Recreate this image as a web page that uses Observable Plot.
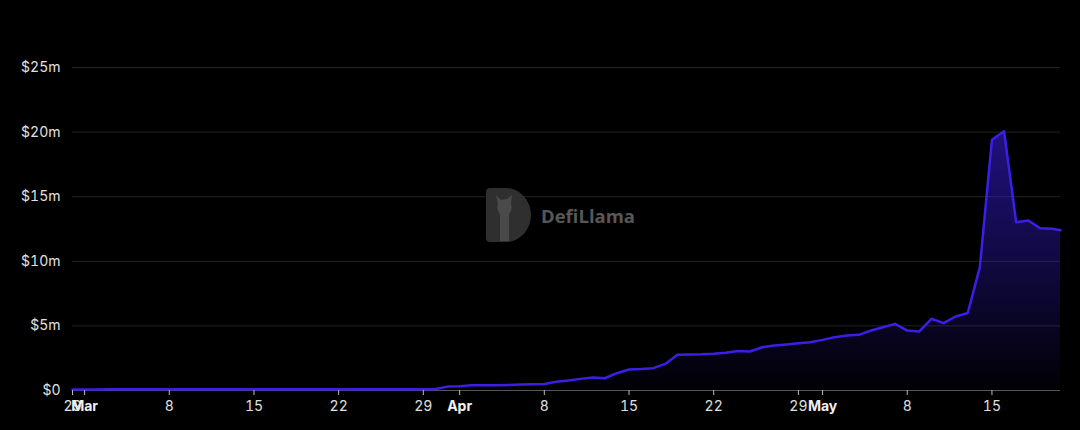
<!DOCTYPE html>
<html>
<head>
<meta charset="utf-8">
<script src="https://cdn.jsdelivr.net/npm/d3@7"></script>
<script src="https://cdn.jsdelivr.net/npm/@observablehq/plot@0.6"></script>
<style>
  html, body { margin: 0; padding: 0; background: #000; }
  #chart { width: 1080px; height: 430px; }
</style>
</head>
<body>
<div id="chart"></div>
<script>
// ---- data ----
const startDate = "2024-02-29";
const endDate = "2024-05-21";            // exclusive end of daily points
const lastUpdate = "2024-05-20T16:00Z";  // partial last point
const values = [
  // Feb 29 – Mar 30
  0.08,0.08,0.08,0.09,0.09,0.09,0.09,0.09,0.09,0.1,0.1,0.1,0.1,0.1,0.1,0.1,
  0.1,0.1,0.1,0.1,0.1,0.1,0.1,0.1,0.1,0.1,0.1,0.1,0.1,0.1,0.12,
  // Mar 31
  0.3,
  // Apr 1 – Apr 30
  0.33,0.4,0.4,0.41,0.43,0.46,0.49,0.5,0.68,0.77,0.9,1.0,0.95,1.34,1.63,1.66,
  1.73,2.06,2.76,2.79,2.8,2.84,2.92,3.05,3.02,3.35,3.48,3.56,3.66,3.74,
  // May 1 – May 20
  3.92,4.13,4.25,4.31,4.64,4.9,5.16,4.64,4.57,5.55,5.21,5.73,6.0,9.55,19.4,
  20.07,13.03,13.16,12.55,12.52,
  // last update
  12.4
];
const yTicks = [0, 5, 10, 15, 20, 25];
const dayTicks = ["2024-02-29","2024-03-08","2024-03-15","2024-03-22","2024-03-29",
                  "2024-04-08","2024-04-15","2024-04-22","2024-04-29",
                  "2024-05-08","2024-05-15"];
const monthTicks = ["2024-03-01","2024-04-01","2024-05-01"];
const monthNames = ["Jan","Feb","Mar","Apr","May","Jun","Jul","Aug","Sep","Oct","Nov","Dec"];

// ---- build table ----
const dates = d3.utcDay.range(new Date(startDate), new Date(endDate));
dates.push(new Date(lastUpdate));
const data = dates.map((d, i) => ({date: d, value: values[i] * 1e6}));

const lineColor = "#3b1fe6";
const font = "Inter, 'Liberation Sans', sans-serif";

const plot = Plot.plot({
  width: 1080,
  height: 430,
  marginLeft: 72,
  marginRight: 20,
  marginTop: 67,
  marginBottom: 40,
  style: {background: "#000", color: "#ddd", fontFamily: font, fontSize: "14px"},
  x: {type: "utc", domain: [dates[0], dates[dates.length - 1]]},
  y: {domain: [0, 25e6]},
  marks: [
    Plot.gridY(yTicks.map(v => v * 1e6), {stroke: "#222", strokeOpacity: 1, strokeWidth: 1}),
    Plot.areaY(data, {x: "date", y: "value", fill: "url(#areaGrad)"}),
    Plot.ruleY([0], {stroke: "#555", strokeWidth: 1.2}),
    Plot.lineY(data, {x: "date", y: "value", stroke: lineColor, strokeWidth: 2.5, strokeLinejoin: "round"}),
    Plot.axisY(yTicks.map(v => v * 1e6), {
      tickSize: 0, tickPadding: 12, fill: "#e0e0e0", fontSize: 14, label: null,
      tickFormat: v => "$" + (v / 1e6) + (v === 0 ? "" : "m")
    }),
    Plot.axisX(dayTicks.map(d => new Date(d)), {
      tickSize: 5, tickPadding: 6, stroke: "#bbb", fill: "#e0e0e0", fontSize: 14, label: null,
      tickFormat: d => String(d.getUTCDate())
    }),
    Plot.axisX(monthTicks.map(d => new Date(d)), {
      tickSize: 5, tickPadding: 6, stroke: "#bbb", fill: "#f0f0f0", fontSize: 14, fontWeight: "bold", label: null,
      tickFormat: d => monthNames[d.getUTCMonth()]
    })
  ]
});

// gradient for the area
const svg = d3.select(plot);
const defs = svg.insert("defs", ":first-child");
const grad = defs.append("linearGradient")
  .attr("id", "areaGrad").attr("x1", 0).attr("y1", 0).attr("x2", 0).attr("y2", 1);
grad.append("stop").attr("offset", "0%").attr("stop-color", lineColor).attr("stop-opacity", 0.55);
grad.append("stop").attr("offset", "100%").attr("stop-color", lineColor).attr("stop-opacity", 0.02);

// watermark
const wm = svg.append("g").attr("class", "watermark");
wm.append("path")
  .attr("d", "M490,188 H506 A25,27 0 0 1 506,242 H490 Q486,242 486,238 V192 Q486,188 490,188 Z")
  .attr("fill", "#2f2f2f");
wm.append("path")
  .attr("d", "M500,241 V214 Q496,210 498,204 L496,195 L501,200 L507,199 L512,195 L511,204 Q513,210 509,214 V241 Z")
  .attr("fill", "#4a4a4a");
wm.append("text")
  .attr("x", 541).attr("y", 223)
  .attr("text-anchor", "start")
  .attr("fill", "#575757")
  .attr("font-family", "'Open Sans', Inter, sans-serif")
  .attr("font-weight", "bold")
  .attr("font-size", 18.5)
  .text("DefiLlama");

document.getElementById("chart").appendChild(plot);
</script>
</body>
</html>
